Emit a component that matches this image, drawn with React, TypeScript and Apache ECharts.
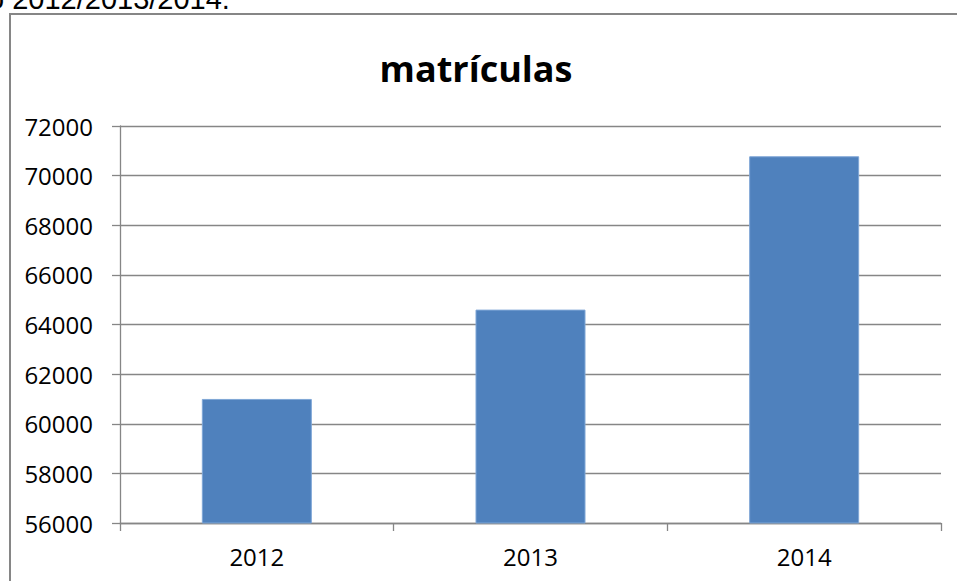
import React, { useEffect, useRef } from "react";
import * as echarts from "echarts";

const categories = ["2012", "2013", "2014"];
const matriculas = [61000, 64600, 70780];
const yMin = 56000;
const yMax = 72000;
const yStep = 2000;
const titleText = "matrículas";
const topCaption = "o 2012/2013/2014.";

export default function App() {
  const ref = useRef<HTMLDivElement>(null);
  useEffect(() => {
    if (!ref.current) return;
    const chart = echarts.init(ref.current, undefined, { renderer: "svg" });
    const gray = "#868686";
    chart.setOption({
      animation: false,
      backgroundColor: "#ffffff",
      grid: { left: 120, right: 16, top: 126, bottom: 58 },
      graphic: [
        {
          type: "rect",
          shape: { x: 10, y: 14, width: 1000, height: 700 },
          style: { fill: "none", stroke: gray, lineWidth: 2 },
          z: -1,
        },
        {
          type: "text",
          x: -12,
          y: -1,
          style: {
            text: topCaption,
            font: "29px 'Liberation Sans', Arial, sans-serif",
            fill: "#000",
            verticalAlign: "middle",
            align: "left",
          },
        },
        {
          type: "text",
          x: 476,
          y: 68,
          style: {
            text: titleText,
            font: "bold 36px 'Open Sans', sans-serif",
            fill: "#000",
            verticalAlign: "middle",
            align: "center",
          },
        },
      ],
      xAxis: {
        type: "category",
        data: categories,
        axisLine: { show: true, lineStyle: { color: gray, width: 1.3 } },
        axisTick: { show: true, alignWithLabel: false, length: 8, lineStyle: { color: gray, width: 1.3 } },
        axisLabel: {
          color: "#000",
          fontFamily: "'Open Sans', sans-serif",
          fontSize: 24,
          margin: 21,
        },
        splitLine: { show: false },
      },
      yAxis: {
        type: "value",
        min: yMin,
        max: yMax,
        interval: yStep,
        axisLine: { show: true, lineStyle: { color: gray, width: 1.3 } },
        axisTick: { show: true, length: 8, lineStyle: { color: gray, width: 1.3 } },
        axisLabel: {
          color: "#000",
          fontFamily: "'Open Sans', sans-serif",
          fontSize: 24,
          margin: 27,
          formatter: (v: number) => String(v),
        },
        splitLine: { show: true, lineStyle: { color: gray, width: 1.3 } },
      },
      series: [
        {
          type: "bar",
          data: matriculas,
          barWidth: 110,
          itemStyle: { color: "#4F81BD", borderColor: "#7fa6d6", borderWidth: 1 },
        },
      ],
    });
    return () => chart.dispose();
  }, []);
  return (
    <div
      ref={ref}
      style={{ position: "fixed", left: 0, top: 0, width: 957, height: 581, background: "#fff" }}
    />
  );
}
